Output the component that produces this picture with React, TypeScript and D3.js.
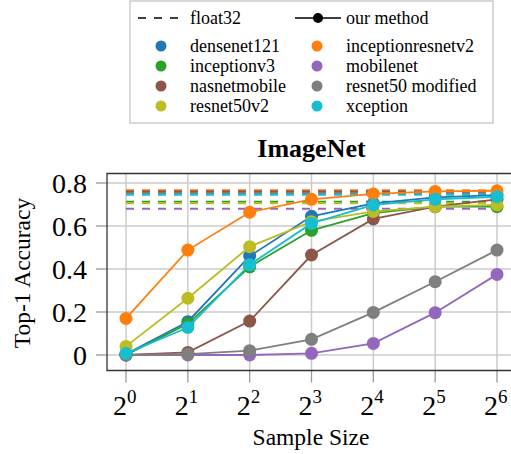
import * as d3 from 'd3'

const SAMPLE_SIZES = [1, 2, 4, 8, 16, 32, 64]
const Y_TICKS = [0, 0.2, 0.4, 0.6, 0.8]

const MODELS = [
  'densenet121',
  'inceptionresnetv2',
  'inceptionv3',
  'mobilenet',
  'nasnetmobile',
  'resnet50 modified',
  'resnet50v2',
  'xception',
]

const COLORS = ['#1f77b4', '#ff7f0e', '#2ca02c', '#9467bd', '#8c564b', '#7f7f7f', '#bcbd22', '#17becf']

const DENSENET121 = [0.005, 0.155, 0.46, 0.645, 0.705, 0.733, 0.744]
const INCEPTIONRESNETV2 = [0.17, 0.488, 0.664, 0.724, 0.749, 0.761, 0.764]
const INCEPTIONV3 = [0.0, 0.145, 0.41, 0.58, 0.66, 0.69, 0.69]
const MOBILENET = [0.0, 0.0, 0.0, 0.008, 0.054, 0.197, 0.375]
const NASNETMOBILE = [0.0, 0.012, 0.158, 0.465, 0.633, 0.69, 0.724]
const RESNET50_MOD = [0.0, 0.004, 0.02, 0.073, 0.198, 0.341, 0.488]
const RESNET50V2 = [0.04, 0.264, 0.504, 0.62, 0.668, 0.69, 0.698]
const XCEPTION = [0.007, 0.128, 0.42, 0.612, 0.698, 0.724, 0.736]

const ACCURACY = [DENSENET121, INCEPTIONRESNETV2, INCEPTIONV3, MOBILENET, NASNETMOBILE, RESNET50_MOD, RESNET50V2, XCEPTION]

// float32 baseline per model, same order as MODELS
const FLOAT32 = [0.752, 0.766, 0.713, 0.68, 0.76, 0.752, 0.706, 0.745]

// legend is laid out column-wise like the original
const LEGEND_LEFT = ['densenet121', 'inceptionv3', 'nasnetmobile', 'resnet50v2']
const LEGEND_RIGHT = ['inceptionresnetv2', 'mobilenet', 'resnet50 modified', 'xception']

const FONT = '"Liberation Serif", "Times New Roman", serif'

export default function App() {
  const width = 511
  const height = 454
  const box = { left: 107, right: 516, top: 173.5, bottom: 370.5 }

  const x = d3.scaleLog().base(2).domain([1, 64]).range([126, 497])
  const y = d3.scaleLinear().domain([0, 0.8]).range([355, 183])

  const line = d3
    .line<number>()
    .x((_, i) => x(SAMPLE_SIZES[i]))
    .y((d) => y(d))

  const colorOf = (name: string) => COLORS[MODELS.indexOf(name)]
  const txt = { fontFamily: FONT }

  return (
    <svg
      width={width}
      height={height}
      style={{ position: 'absolute', left: 0, top: 0, background: '#fff', fontFamily: FONT }}
    >
      {/* legend */}
      <rect x={130} y={1} width={363} height={122} fill="#fff" stroke="#cccccc" strokeWidth={1.5} />
      <line x1={138} x2={178} y1={18} y2={18} stroke="#000" strokeWidth={1.3} strokeDasharray="8,8" />
      <text x={190} y={24} fontSize={18} style={txt}>float32</text>
      <line x1={295} x2={341} y1={18} y2={18} stroke="#000" strokeWidth={1.5} />
      <circle cx={318} cy={18} r={5} fill="#000" />
      <text x={346} y={24} fontSize={18} style={txt}>our method</text>
      {LEGEND_LEFT.map((name, i) => (
        <g key={name}>
          <circle cx={161} cy={46 + i * 20} r={5.5} fill={colorOf(name)} />
          <text x={190} y={52 + i * 20} fontSize={18} style={txt}>{name}</text>
        </g>
      ))}
      {LEGEND_RIGHT.map((name, i) => (
        <g key={name}>
          <circle cx={317} cy={46 + i * 20} r={5.5} fill={colorOf(name)} />
          <text x={346} y={52 + i * 20} fontSize={18} style={txt}>{name}</text>
        </g>
      ))}

      {/* title */}
      <text x={311.5} y={157} textAnchor="middle" fontSize={26} fontWeight="bold" style={txt}>ImageNet</text>

      {/* grid */}
      {SAMPLE_SIZES.map((s) => (
        <line key={'gx' + s} x1={x(s)} x2={x(s)} y1={box.top} y2={box.bottom} stroke="#cbcbcb" strokeWidth={1.5} />
      ))}
      {Y_TICKS.map((t) => (
        <line key={'gy' + t} x1={box.left} x2={box.right} y1={y(t)} y2={y(t)} stroke="#cbcbcb" strokeWidth={1.5} />
      ))}

      {/* ticks */}
      {SAMPLE_SIZES.map((s) => (
        <line key={'tx' + s} x1={x(s)} x2={x(s)} y1={box.bottom} y2={box.bottom + 12} stroke="#9a9a9a" strokeWidth={1.3} />
      ))}
      {Y_TICKS.map((t) => (
        <line key={'ty' + t} x1={box.left - 11} x2={box.left} y1={y(t)} y2={y(t)} stroke="#9a9a9a" strokeWidth={1.3} />
      ))}

      {/* float32 baselines */}
      {MODELS.map((name, i) => (
        <line
          key={'f' + name}
          x1={x(1)}
          x2={x(64)}
          y1={y(FLOAT32[i])}
          y2={y(FLOAT32[i])}
          stroke={COLORS[i]}
          strokeWidth={2}
          strokeDasharray="8,8"
        />
      ))}

      {/* our method */}
      {MODELS.map((name, i) => (
        <g key={'s' + name}>
          <path d={line(ACCURACY[i]) || ''} fill="none" stroke={COLORS[i]} strokeWidth={1.8} />
          {ACCURACY[i].map((v, j) => (
            <circle key={j} cx={x(SAMPLE_SIZES[j])} cy={y(v)} r={6.5} fill={COLORS[i]} />
          ))}
        </g>
      ))}

      {/* frame */}
      <path
        d={`M${box.right},${box.top}H${box.left}V${box.bottom}H${box.right}`}
        fill="none"
        stroke="#333"
        strokeWidth={1.3}
      />

      {/* y tick labels */}
      {Y_TICKS.map((t) => (
        <text key={'ly' + t} x={87} y={y(t)} dy="0.35em" textAnchor="end" fontSize={28} style={txt}>
          {t === 0 ? '0' : d3.format('.1f')(t)}
        </text>
      ))}

      {/* x tick labels */}
      {SAMPLE_SIZES.map((s) => (
        <text key={'lx' + s} x={x(s) - 13} y={415} fontSize={28} style={txt}>
          2
          <tspan fontSize={19} dy={-12}>{Math.log2(s)}</tspan>
        </text>
      ))}

      {/* axis labels */}
      <text x={311} y={445} textAnchor="middle" fontSize={23.5} style={txt}>Sample Size</text>
      <text transform="translate(30,273) rotate(-90)" textAnchor="middle" fontSize={23.5} style={txt}>Top-1 Accuracy</text>
    </svg>
  )
}
